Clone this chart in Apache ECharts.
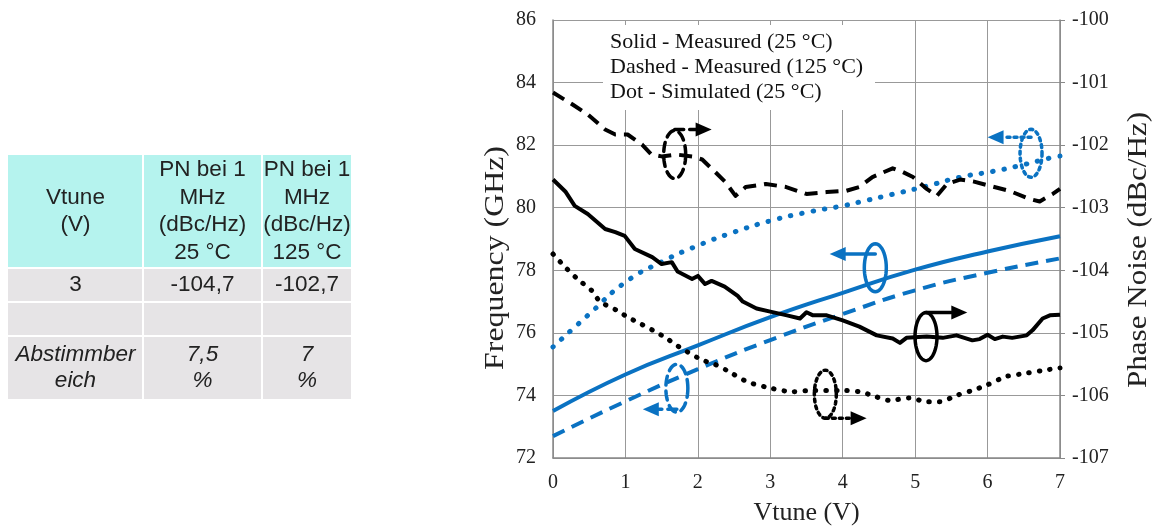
<!DOCTYPE html>
<html><head><meta charset="utf-8">
<script src="https://cdn.jsdelivr.net/npm/echarts@6/dist/echarts.min.js"></script>
<style>html,body{margin:0;padding:0;background:#fff}#c{width:1155px;height:531px}</style>
</head><body><div id="c"></div>
<script>
// ---------- DATA ----------
const xTicks = [0,1,2,3,4,5,6,7];
const freqTicks = [72,74,76,78,80,82,84,86];
const pnTicks = [-107,-106,-105,-104,-103,-102,-101,-100];

// Frequency (GHz), left axis
const freqMeas25 = [[0,73.5],[1,74.67],[2,75.6],[3,76.5],[4,77.28],[5,78.02],[6,78.6],[7,79.09]];
const freqMeas125 = [[0,72.7],[1,73.81],[2,74.84],[3,75.77],[4,76.6],[5,77.36],[6,77.92],[7,78.38]];
const freqSim25 = [[0,75.55],[0.5,76.6],[1,77.62],[1.5,78.27],[2,78.79],[2.5,79.22],[3,79.58],[3.5,79.85],[4,80.06],[4.23,80.18],[4.69,80.43],[5.16,80.69],[5.61,80.97],[6.07,81.16],[6.4,81.32],[6.9,81.61],[7,81.65]];

// Phase noise (dBc/Hz), right axis
const pnMeas25 = [[0,-102.55],[0.17,-102.74],[0.3,-102.97],[0.48,-103.1],[0.72,-103.34],[0.86,-103.39],[0.99,-103.45],[1.13,-103.66],[1.37,-103.79],[1.5,-103.9],[1.64,-103.87],[1.72,-104.02],[1.92,-104.14],[2.0,-104.09],[2.1,-104.22],[2.19,-104.17],[2.37,-104.26],[2.55,-104.41],[2.62,-104.5],[2.81,-104.61],[3.0,-104.66],[3.23,-104.72],[3.41,-104.77],[3.5,-104.67],[3.59,-104.72],[3.78,-104.72],[4.0,-104.8],[4.23,-104.9],[4.47,-105.04],[4.69,-105.09],[4.79,-105.16],[4.88,-105.08],[5.16,-105.06],[5.38,-105.08],[5.57,-105.04],[5.79,-105.12],[5.89,-105.1],[6.0,-105.03],[6.1,-105.1],[6.21,-105.06],[6.34,-105.08],[6.54,-105.04],[6.62,-104.96],[6.76,-104.77],[6.86,-104.72],[7.0,-104.71]];
const pnMeas125 = [[0,-101.16],[0.27,-101.35],[0.48,-101.51],[0.72,-101.75],[0.86,-101.83],[1.03,-101.83],[1.23,-101.99],[1.36,-102.15],[1.5,-102.18],[1.7,-102.15],[1.92,-102.18],[2.06,-102.23],[2.24,-102.43],[2.38,-102.59],[2.52,-102.81],[2.66,-102.67],[2.94,-102.62],[3.22,-102.67],[3.5,-102.78],[3.78,-102.75],[4.05,-102.73],[4.23,-102.67],[4.41,-102.51],[4.69,-102.37],[4.83,-102.43],[4.97,-102.51],[5.16,-102.7],[5.3,-102.81],[5.44,-102.62],[5.62,-102.55],[5.8,-102.58],[6.03,-102.65],[6.3,-102.73],[6.58,-102.86],[6.72,-102.9],[6.9,-102.78],[7.0,-102.7]];
const pnSim25 = [[0,-103.74],[0.17,-103.95],[0.34,-104.14],[0.54,-104.33],[0.65,-104.5],[0.88,-104.64],[1.02,-104.74],[1.2,-104.85],[1.38,-104.96],[1.57,-105.09],[1.71,-105.2],[1.85,-105.3],[2.07,-105.44],[2.21,-105.49],[2.4,-105.6],[2.68,-105.78],[3.03,-105.89],[3.31,-105.94],[3.59,-105.92],[3.96,-105.92],[4.23,-105.94],[4.41,-106.0],[4.65,-106.08],[4.92,-106.04],[5.16,-106.1],[5.34,-106.1],[5.57,-106.0],[5.79,-105.92],[5.98,-105.84],[6.25,-105.7],[6.45,-105.66],[6.77,-105.6],[7.0,-105.56]];

// Annotation anchors [ellipse V, ellipse GHz, arrow-tip V, arrow-tip GHz]
const annPnMeas125 = [[1.68,81.7,2.19,82.5]];
const annFreqMeas25 = [[4.45,78.08,3.82,78.52]];
const annPnMeas25 = [[5.15,75.88,5.72,76.65]];
const annFreqMeas125 = [[1.71,74.23,1.24,73.56]];
const annPnSim25 = [[3.76,74.04,4.33,73.27]];
const annFreqSim25 = [[6.6,81.74,6.0,82.25]];

const legendLines = ['Solid - Measured (25 °C)','Dashed - Measured (125 °C)','Dot - Simulated (25 °C)'];
const axisTitles = {x:'Vtune (V)', left:'Frequency (GHz)', right:'Phase Noise (dBc/Hz)'};

// Table
const tableHeader = [['Vtune','(V)'],['PN bei 1','MHz','(dBc/Hz)','25 °C'],['PN bei 1','MHz','(dBc/Hz)','125 °C']];
const tableRow1 = ['3','-104,7','-102,7'];
const tableRow2 = ['','',''];
const tableRow3 = [['Abstimmber','eich'],['7,5','%'],['7','%']];

// ---------- RENDER ----------
const BLUE = '#0a72c2';
const chart = echarts.init(document.getElementById('c'), null, {renderer:'canvas'});
const SERIF = 'Liberation Serif';
const SANS = 'Liberation Sans';

function annSeries(name, data, color, dash){
  return {
    name, type:'custom', coordinateSystem:'cartesian2d', xAxisIndex:0, yAxisIndex:0, z:5,
    data, silent:true,
    renderItem(params, api){
      const c = api.coord([api.value(0), api.value(1)]);
      const t = api.coord([api.value(2), api.value(3)]);
      const rx = 11, ry = 24;
      const pts = [];
      for(let i=0;i<=48;i++){const a=i/48*Math.PI*2;pts.push([c[0]+rx*Math.cos(a), c[1]+ry*Math.sin(a)]);}
      const dir = t[0] > c[0] ? 1 : -1;
      const head = 16, hw = 7;
      const style = {stroke:color, fill:null, lineWidth:3.5, lineDash:dash, lineCap:'round'};
      return {type:'group', children:[
        {type:'polyline', shape:{points:pts}, style:Object.assign({},style)},
        {type:'line', shape:{x1:c[0], y1:t[1], x2:t[0]-dir*head, y2:t[1]}, style:Object.assign({},style)},
        {type:'polygon', shape:{points:[[t[0],t[1]],[t[0]-dir*head,t[1]-hw],[t[0]-dir*head,t[1]+hw]]}, style:{fill:color}}
      ]};
    }
  };
}

const gridL = 553, gridT = 20, gridR = 1060, gridB = 460;

const graphics = [];
// legend box
graphics.push({type:'rect', left:603, top:25, shape:{width:272, height:85}, style:{fill:'#fff'}, z:1});
legendLines.forEach((s,i)=>{
  graphics.push({type:'text', x:610, y:42+i*25, style:{text:s, font:'22px "'+SERIF+'"', fill:'#111', textVerticalAlign:'middle'}, z:10});
});
// rotated y-axis titles (slightly stretched along their length as in the reference)
graphics.push({type:'text', x:496, y:258, rotation:Math.PI/2, scaleX:1.18, style:{text:axisTitles.left, font:'27px "'+SERIF+'"', fill:'#222', textAlign:'center', textVerticalAlign:'middle'}, z:10});
graphics.push({type:'text', x:1139, y:250, rotation:Math.PI/2, scaleX:1.15, style:{text:axisTitles.right, font:'27px "'+SERIF+'"', fill:'#222', textAlign:'center', textVerticalAlign:'middle'}, z:10});
// table
const colX = [8,143,262,352];
const rowY = [155,268,302,336,400];
function cell(ci, ri, fill){
  graphics.push({type:'rect', shape:{x:colX[ci]+ (ci>0?1:0), y:rowY[ri]+(ri>0?1:0), width:colX[ci+1]-colX[ci]-(ci>0?1:0)-1, height:rowY[ri+1]-rowY[ri]-(ri>0?1:0)-1}, style:{fill}});
}
function cellText(ci, ri, lines, italic, lh){
  const cx = (colX[ci]+colX[ci+1])/2, cy = (rowY[ri]+rowY[ri+1])/2;
  lines.forEach((s,k)=>{
    graphics.push({type:'text', x:cx, y:cy + (k-(lines.length-1)/2)*lh, style:{text:s, font:(italic?'italic ':'')+'22.5px "'+SANS+'"', fill:'#222', textAlign:'center', textVerticalAlign:'middle'}, z:10});
  });
}
for(let c=0;c<3;c++){
  cell(c,0,'#b5f3ee');
  cell(c,1,'#e6e4e6'); cell(c,2,'#e6e4e6'); cell(c,3,'#e6e4e6');
  cellText(c,0,tableHeader[c],false,27.5);
  cellText(c,1,[tableRow1[c]],false,26);
  if(tableRow2[c]) cellText(c,2,[tableRow2[c]],false,26);
  cellText(c,3,tableRow3[c], true, 26);
}

const axisLab = {fontFamily:SERIF, fontSize:20, color:'#222'};
const option = {
  animation:false,
  backgroundColor:'#fff',
  grid:{left:gridL, top:gridT, right:1155-gridR, bottom:531-gridB, containLabel:false, show:false},
  xAxis:{type:'value', min:0, max:7, interval:1,
    name:axisTitles.x, nameLocation:'middle', nameGap:42,
    nameTextStyle:{fontFamily:SERIF, fontSize:26, color:'#222'},
    axisLine:{show:true, lineStyle:{color:'#888', width:1.5}}, axisTick:{show:false},
    axisLabel:Object.assign({margin:15, formatter:v=>xTicks.includes(v)?String(v):''}, axisLab),
    splitLine:{show:true, lineStyle:{color:'#999', width:1}}},
  yAxis:[
    {type:'value', min:72, max:86, interval:2, position:'left',
      axisLine:{show:true, lineStyle:{color:'#888', width:1.5}}, axisTick:{show:false},
      axisLabel:Object.assign({margin:17, formatter:v=>freqTicks.includes(v)?String(v):''}, axisLab),
      splitLine:{show:true, lineStyle:{color:'#999', width:1}}},
    {type:'value', min:-107, max:-100, interval:1, position:'right',
      axisLine:{show:true, lineStyle:{color:'#888', width:1.5}},
      axisTick:{show:true, length:5, inside:false, lineStyle:{color:'#888'}},
      axisLabel:Object.assign({margin:12, formatter:v=>pnTicks.includes(v)?String(v):''}, axisLab),
      splitLine:{show:false}}
  ],
  series:[
    {name:'freqMeas25', type:'line', yAxisIndex:0, data:freqMeas25, smooth:true, showSymbol:false, lineStyle:{color:BLUE, width:4}, z:3},
    {name:'freqMeas125', type:'line', yAxisIndex:0, data:freqMeas125, smooth:true, showSymbol:false, lineStyle:{color:BLUE, width:4, type:[13,8]}, z:3},
    {name:'freqSim25', type:'line', yAxisIndex:0, data:freqSim25, smooth:true, showSymbol:false, lineStyle:{color:BLUE, width:5, type:[0.5,11], cap:'round'}, z:3},
    {name:'pnMeas25', type:'line', yAxisIndex:1, data:pnMeas25, showSymbol:false, lineStyle:{color:'#000', width:4, join:'round'}, z:3},
    {name:'pnMeas125', type:'line', yAxisIndex:1, data:pnMeas125, showSymbol:false, lineStyle:{color:'#000', width:4, type:[13,8], join:'round'}, z:3},
    {name:'pnSim25', type:'line', yAxisIndex:1, data:pnSim25, smooth:0.3, showSymbol:false, lineStyle:{color:'#000', width:5, type:[0.5,10], cap:'round'}, z:3},
    annSeries('a1', annPnMeas125, '#000', [9,6]),
    annSeries('a2', annFreqMeas25, BLUE, null),
    annSeries('a3', annPnMeas25, '#000', null),
    annSeries('a4', annFreqMeas125, BLUE, [9,6]),
    annSeries('a5', annPnSim25, '#000', [3,4]),
    annSeries('a6', annFreqSim25, BLUE, [3,4])
  ],
  graphic:graphics
};
chart.setOption(option);
</script>
</body></html>
